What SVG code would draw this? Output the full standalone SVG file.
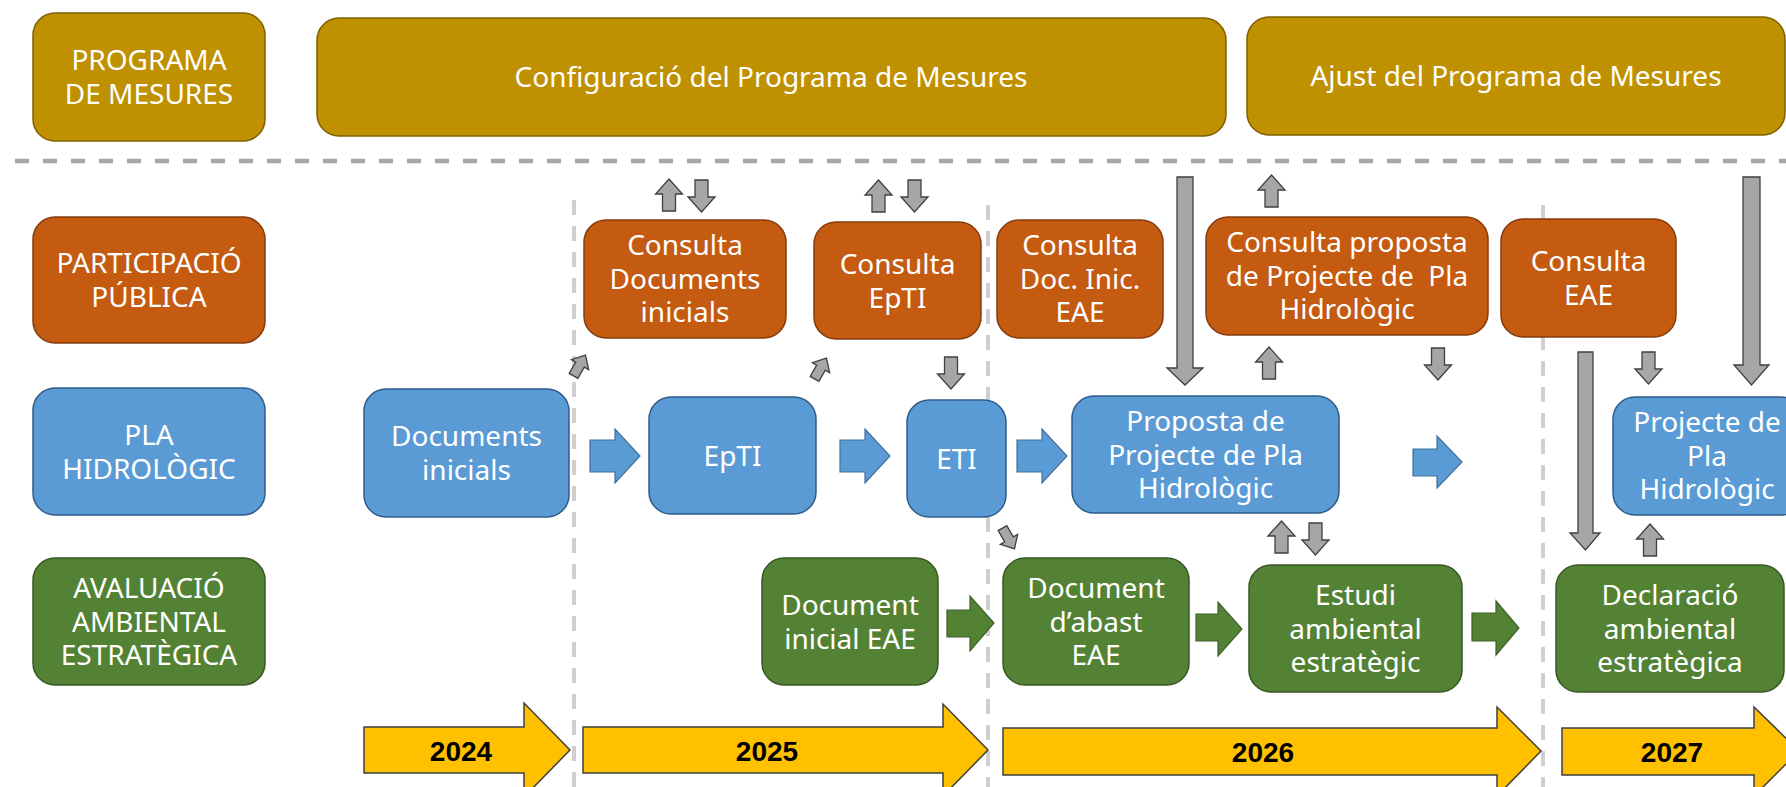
<svg xmlns="http://www.w3.org/2000/svg" xmlns:xlink="http://www.w3.org/1999/xlink" width="1786" height="787" viewBox="0 0 1786 787">
<style>
.t{font-family:"Noto Sans","Open Sans",sans-serif;font-size:28px;fill:#ffffff;text-anchor:middle}
.yr{font-family:"Liberation Sans",Arial,sans-serif;font-size:28px;font-weight:bold;fill:#000000;text-anchor:middle}
.gold{fill:#bf9000;stroke:#7f6000;stroke-width:1.5}
.org{fill:#c55a11;stroke:#843c0c;stroke-width:1.5}
.blu{fill:#5b9bd5;stroke:#2e5b8a;stroke-width:1.5}
.grn{fill:#548235;stroke:#385723;stroke-width:1.5}
.ylw{fill:#ffc000;stroke:#3f3f3f;stroke-width:1.5}
.ga{fill:#a6a6a6;stroke:#404040;stroke-width:1.3}
.ba{fill:#5b9bd5;stroke:#41719c;stroke-width:1.2}
.gra{fill:#548235;stroke:#3d6127;stroke-width:1.2}
.hd{stroke:#a6a6a6;stroke-width:4.5;stroke-dasharray:14 14;fill:none}
.vd{stroke:#d0cece;stroke-width:4;stroke-dasharray:15 11;fill:none}
</style>
<defs>
<path id="up" d="M0,0 L13.5,15 L6.5,15 L6.5,32 L-6.5,32 L-6.5,15 L-13.5,15 Z"/>
<path id="down" d="M-6.5,0 L6.5,0 L6.5,17 L13.5,17 L0,32 L-13.5,17 L-6.5,17 Z"/>
<path id="tilt" d="M0,-12 L10,-1 L5,-1 L5,12 L-5,12 L-5,-1 L-10,-1 Z"/>
</defs>
<rect width="1786" height="787" fill="#ffffff"/>

<g id="guides">
<line class="hd" x1="15" y1="161" x2="1786" y2="161"/>
<line class="vd" x1="574" y1="200" x2="574" y2="787"/>
<line class="vd" x1="988" y1="205" x2="988" y2="787"/>
<line class="vd" x1="1543" y1="205" x2="1543" y2="787"/>
</g>

<g id="lbl-programa"><rect class="gold" x="33" y="13" width="232" height="128" rx="22"/><text class="t" y="70"><tspan x="149">PROGRAMA</tspan><tspan x="149" dy="33.6">DE MESURES</tspan></text></g>
<g id="lbl-participacio"><rect class="org" x="33" y="217" width="232" height="126" rx="22"/><text class="t" y="273"><tspan x="149">PARTICIPACIÓ</tspan><tspan x="149" dy="33.6">PÚBLICA</tspan></text></g>
<g id="lbl-pla"><rect class="blu" x="33" y="388" width="232" height="127" rx="22"/><text class="t" y="445"><tspan x="149">PLA</tspan><tspan x="149" dy="33.6">HIDROLÒGIC</tspan></text></g>
<g id="lbl-avaluacio"><rect class="grn" x="33" y="558" width="232" height="127" rx="22"/><text class="t" y="598"><tspan x="149">AVALUACIÓ</tspan><tspan x="149" dy="33.6">AMBIENTAL</tspan><tspan x="149" dy="33.6">ESTRATÈGICA</tspan></text></g>

<g id="config"><rect class="gold" x="317" y="18" width="909" height="118" rx="22"/><text class="t" x="771" y="87">Configuració del Programa de Mesures</text></g>
<g id="ajust"><rect class="gold" x="1247" y="17" width="538" height="118" rx="22"/><text class="t" x="1516" y="86">Ajust del Programa de Mesures</text></g>

<g id="consulta-docs"><rect class="org" x="584" y="220" width="202" height="118" rx="22"/><text class="t" y="255"><tspan x="685">Consulta</tspan><tspan x="685" dy="33.6">Documents</tspan><tspan x="685" dy="33.6">inicials</tspan></text></g>
<g id="consulta-epti"><rect class="org" x="814" y="222" width="167" height="117" rx="22"/><text class="t" y="274"><tspan x="897.5">Consulta</tspan><tspan x="897.5" dy="33.6">EpTI</tspan></text></g>
<g id="consulta-doc-inic"><rect class="org" x="997" y="220" width="166" height="118" rx="22"/><text class="t" y="255"><tspan x="1080">Consulta</tspan><tspan x="1080" dy="33.6">Doc. Inic.</tspan><tspan x="1080" dy="33.6">EAE</tspan></text></g>
<g id="consulta-proposta"><rect class="org" x="1206" y="217" width="282" height="118" rx="22"/><text class="t" y="252" xml:space="preserve"><tspan x="1347">Consulta proposta</tspan><tspan x="1347" dy="33.6">de Projecte de  Pla</tspan><tspan x="1347" dy="33.6">Hidrològic</tspan></text></g>
<g id="consulta-eae"><rect class="org" x="1501" y="219" width="175" height="118" rx="22"/><text class="t" y="271"><tspan x="1588.5">Consulta</tspan><tspan x="1588.5" dy="33.6">EAE</tspan></text></g>

<g id="documents-inicials"><rect class="blu" x="364" y="389" width="205" height="128" rx="22"/><text class="t" y="446"><tspan x="466.5">Documents</tspan><tspan x="466.5" dy="33.6">inicials</tspan></text></g>
<g id="epti"><rect class="blu" x="649" y="397" width="167" height="117" rx="22"/><text class="t" x="732.5" y="466">EpTI</text></g>
<g id="eti"><rect class="blu" x="907" y="400" width="99" height="117" rx="22"/><text class="t" x="956.5" y="469">ETI</text></g>
<g id="proposta"><rect class="blu" x="1072" y="396" width="267" height="117" rx="22"/><text class="t" y="431"><tspan x="1205.5">Proposta de</tspan><tspan x="1205.5" dy="33.6">Projecte de Pla</tspan><tspan x="1205.5" dy="33.6">Hidrològic</tspan></text></g>
<g id="projecte"><rect class="blu" x="1613" y="397" width="190" height="118" rx="22"/><text class="t" y="432"><tspan x="1707">Projecte de</tspan><tspan x="1707" dy="33.6">Pla</tspan><tspan x="1707" dy="33.6">Hidrològic</tspan></text></g>

<g id="doc-inicial-eae"><rect class="grn" x="762" y="558" width="176" height="127" rx="22"/><text class="t" y="615"><tspan x="850">Document</tspan><tspan x="850" dy="33.6">inicial EAE</tspan></text></g>
<g id="doc-abast"><rect class="grn" x="1003" y="558" width="186" height="127" rx="22"/><text class="t" y="598"><tspan x="1096">Document</tspan><tspan x="1096" dy="33.6">d’abast</tspan><tspan x="1096" dy="33.6">EAE</tspan></text></g>
<g id="estudi"><rect class="grn" x="1249" y="565" width="213" height="127" rx="22"/><text class="t" y="605"><tspan x="1355.5">Estudi</tspan><tspan x="1355.5" dy="33.6">ambiental</tspan><tspan x="1355.5" dy="33.6">estratègic</tspan></text></g>
<g id="declaracio"><rect class="grn" x="1556" y="565" width="228" height="127" rx="22"/><text class="t" y="605"><tspan x="1670">Declaració</tspan><tspan x="1670" dy="33.6">ambiental</tspan><tspan x="1670" dy="33.6">estratègica</tspan></text></g>

<g id="years">
<path class="ylw" d="M364,727 L524,727 L524,703 L570,750 L524,797 L524,773 L364,773 Z"/>
<path class="ylw" d="M583,727 L943,727 L943,704 L988,750 L943,796 L943,773 L583,773 Z"/>
<path class="ylw" d="M1003,728 L1497,728 L1497,707 L1541,751 L1497,796 L1497,775 L1003,775 Z"/>
<path class="ylw" d="M1562,728 L1754,728 L1754,707 L1799,751 L1754,796 L1754,775 L1562,775 Z"/>
<text class="yr" x="461" y="761">2024</text>
<text class="yr" x="767" y="761">2025</text>
<text class="yr" x="1263" y="762">2026</text>
<text class="yr" x="1672" y="762">2027</text>
</g>

<g id="connectors">
<path class="ba" d="M590,440 L615,440 L615,429 L640,456 L615,483 L615,472 L590,472 Z"/>
<path class="ba" d="M840,440 L865,440 L865,429 L890,456 L865,483 L865,472 L840,472 Z"/>
<path class="ba" d="M1017,440 L1042,440 L1042,429 L1067,456 L1042,483 L1042,472 L1017,472 Z"/>
<path class="ba" d="M1413,449 L1437,449 L1437,436 L1462,462 L1437,488 L1437,476 L1413,476 Z"/>
<path class="gra" d="M947,610 L970,610 L970,596 L994,623 L970,651 L970,637 L947,637 Z"/>
<path class="gra" d="M1196,614 L1218,614 L1218,602 L1242,629 L1218,656 L1218,641 L1196,641 Z"/>
<path class="gra" d="M1472,613 L1496,613 L1496,601 L1519,628 L1496,655 L1496,641 L1472,641 Z"/>
<use href="#up" class="ga" x="669" y="179"/>
<use href="#down" class="ga" x="701.5" y="180"/>
<use href="#up" class="ga" x="878.5" y="180"/>
<use href="#down" class="ga" x="914.5" y="180"/>
<use href="#down" class="ga" x="951" y="357"/>
<use href="#up" class="ga" x="1271.5" y="175"/>
<use href="#up" class="ga" x="1269" y="347"/>
<use href="#down" class="ga" x="1438" y="348"/>
<use href="#up" class="ga" x="1281.5" y="521"/>
<use href="#down" class="ga" x="1315.5" y="523"/>
<use href="#down" class="ga" x="1648.5" y="352"/>
<use href="#up" class="ga" x="1650" y="524"/>
<use href="#tilt" class="ga" transform="translate(579.5,365.5) rotate(30)"/>
<use href="#tilt" class="ga" transform="translate(820.5,368.5) rotate(30)"/>
<use href="#tilt" class="ga" transform="translate(1008.5,538.5) rotate(150)"/>
<path class="ga" d="M1177,177 L1193,177 L1193,368 L1203,368 L1185,385 L1167,368 L1177,368 Z"/>
<path class="ga" d="M1578,352 L1593,352 L1593,533 L1600,533 L1585.5,550 L1570,533 L1578,533 Z"/>
<path class="ga" d="M1743,177 L1760,177 L1760,365 L1769,365 L1751.5,385 L1734,365 L1743,365 Z"/>
</g>
</svg>
